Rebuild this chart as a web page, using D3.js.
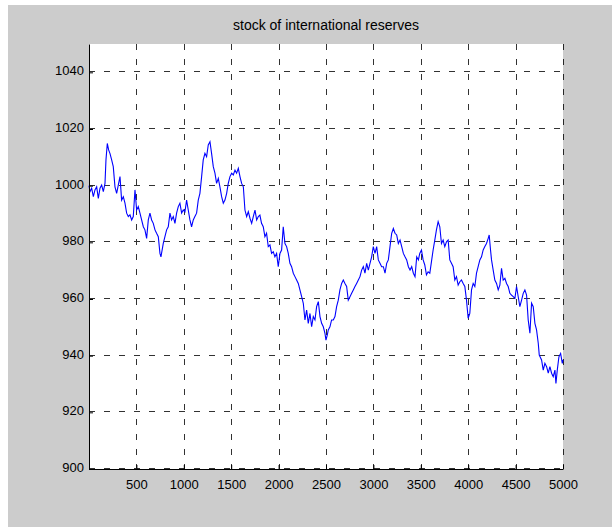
<!DOCTYPE html>
<html>
<head>
<meta charset="utf-8">
<script src="https://cdn.jsdelivr.net/npm/d3@7"></script>
<style>
html,body{margin:0;padding:0;background:#ffffff;}
svg{display:block;}
text{font-family:"Liberation Sans",Arial,Helvetica,sans-serif;}
</style>
</head>
<body>
<svg id="chart" width="612" height="527"></svg>
<script>
const chartTitle = "stock of international reserves";
const xTickValues = [500,1000,1500,2000,2500,3000,3500,4000,4500,5000];
const yTickValues = [900,920,940,960,980,1000,1020,1040];
const xDomain = [0,5000];
const yDomain = [900,1050];

// time step
const steps = [0,10.5,28,45.7,63,80.8,98.4,116,133.5,151,168.7,179,193,207,221,239,256,274,291.6,309,327,344,362,379.5,397,414.6,432,450,467,485,502.6,520,537.6,555,573,590,608,625.5,643,660.6,678,696,713,731,748.5,759,783.5,801,818.7,836,854,871,889,906.6,924,941.7,959,977,994,1012,1029.5,1047,1064.6,1082,1100,1117,1135,1152.6,1170,1188,1205,1223,1240.6,1258,1276,1293,1311,1328.6,1346,1364,1381,1399,1416.6,1434,1452,1469,1487,1504.6,1522,1540,1557,1575,1592.6,1610,1628,1645,1663,1680.6,1698,1716,1733,1751,1768.6,1786,
1802.7,1820,1838,1855.6,1873,1891,1908.5,1926,1943.6,1961,1979,1996.5,2014,2031.6,2049,2067,2084.5,2102,2119.6,2137,2155,2172.5,2190,2207.6,2225,2243,2260.5,2278,2295.6,2313,2331,2348.5,2366,2383.6,2401,2419,2436.5,2454,2471.6,2489,2499.6,2513.7,2524,2541.6,2559,2577,2594.5,2612,2629.6,2647,2665,2682.5,2700,2717.6,2735,2753,2770.5,2788,2805.6,2823,2841,2858.5,2876,2893.6,2911,2929,2946.5,2964,2981.6,2999,3017,3034.5,3052,3069.6,3087,3105,3122.5,3140,3157.6,3175,3193,3210.5,3228,3245.6,3263,3281,3298.5,3316,3333.6,3351,3369,3386.5,3404,3421.6,3439,3457,3474.5,
3489,3507,3524.5,3542,3559.6,3577,3595,3612.5,3630,3647.6,3665,3683,3700.5,3718,3735.6,3753,3771,3788.5,3806,3823.6,3841,3859,3876.5,3894,3911.6,3929,3947,3964.5,3982,3999.6,4017,4035,4052.5,4070,4087.6,4105,4123,4140.5,4158,4175.6,4193,4211,4221.5,4235.6,4246,4263.6,4281,4299,4316.5,4334,4351.6,4369,4387,4404.5,4422,4439.6,4457,4475,4492.5,4510,4527.6,4545,4563,4580.5,4598,4615.6,4633,4651,4668.5,4686,4703.6,4721,4739,4749.5,4774,4791.6,4809,4827,4844.5,4862,4879.6,4897,4915,4925.5,4939.6,4957,4975,4992.5,5000];

// stock of international reserves
const reserves = [1000,997.9,999.1,996.1,998.5,999.6,995.5,999.1,1000.2,997.9,1000.8,1009.1,1014.9,1012.6,1011.4,1009.1,1006.7,999.6,997.3,1000.2,1003.2,994.9,996.1,993.8,990.3,989.1,989.7,987.9,989.1,998.5,991.4,992.6,990.3,987.9,985.5,984.4,981.4,987.9,990.3,987.9,986.7,984.4,983.2,982.0,976.1,974.9,979.6,982.0,984.4,985.5,990.3,987.9,989.1,986.7,990.3,992.6,993.8,990.3,991.4,990.8,994.9,991.4,987.9,985.5,987.9,989.1,990.3,994.9,997.3,1003.2,1009.1,1011.4,1010.2,1014.4,1015.5,1011.4,1006.7,1004.4,1000.8,1002.6,999.6,996.1,993.8,994.9,997.3,1000.8,1003.2,1004.4,1003.8,1005.5,1004.4,1006.1,1003.2,1000.8,999.6,991.4,989.1,990.8,988.5,986.7,989.1,991.4,987.9,989.1,
989.6,986.7,985.5,982.0,983.2,978.5,979.1,976.1,976.7,974.9,976.1,971.4,976.1,977.3,985.5,979.6,978.5,976.1,972.6,971.4,969.1,967.9,966.7,965.5,963.2,960.8,958.5,952.6,956.1,951.4,954.9,950.2,953.8,952.6,957.3,959.1,953.8,951.4,950.2,947.9,945.5,947.3,949.1,950.2,952.6,952.6,953.8,957.3,959.6,963.2,965.5,966.7,965.5,964.4,959.6,960.8,962.0,963.2,964.4,965.5,966.7,967.9,970.2,971.4,969.1,972.6,970.2,972.6,974.9,978.5,976.1,978.5,973.8,972.6,971.4,971.4,969.1,972.6,973.8,978.5,983.2,984.9,983.2,982.6,979.6,980.8,978.5,976.1,974.9,973.8,971.4,970.2,971.4,969.1,967.9,974.9,973.8,
976.1,977.3,973.8,972.0,968.5,969.6,969.1,973.2,977.3,980.8,984.4,987.3,985.5,979.6,980.8,978.5,980.2,980.8,973.8,972.6,971.4,966.7,967.9,964.9,966.1,966.7,965.5,964.4,959.6,953.2,954.9,963.2,965.5,964.4,969.1,971.4,973.8,974.9,977.3,978.5,979.6,981.4,982.6,977.3,973.8,970.2,966.7,965.5,963.2,964.9,970.8,966.7,967.3,965.5,964.4,962.0,961.4,960.8,960.2,964.4,960.8,957.3,959.6,962.0,963.2,961.4,952.6,947.9,958.5,957.3,951.4,949.1,944.4,940.2,938.5,934.9,937.3,936.1,933.8,936.1,933.8,932.6,934.9,930.2,934.9,939.6,940.8,937.3,938.5];

const svg = d3.select("#chart");
const W = 612, H = 527;
const m = {left:89, right:563, top:44, bottom:469};

// figure background
svg.append("rect").attr("x",0).attr("y",0).attr("width",W).attr("height",H).attr("fill","#ffffff");
svg.append("rect").attr("x",8).attr("y",5).attr("width",W-8).attr("height",H-5).attr("fill","#cccccc");
// axes background
svg.append("rect").attr("x",m.left).attr("y",m.top).attr("width",m.right-m.left).attr("height",m.bottom-m.top).attr("fill","#ffffff");

const x = d3.scaleLinear().domain(xDomain).range([m.left,m.right]);
const y = d3.scaleLinear().domain(yDomain).range([m.bottom,m.top]);

// grid
const grid = svg.append("g").attr("stroke","#000").attr("stroke-width",1).attr("stroke-dasharray","6,9").attr("opacity",0.8);
grid.selectAll("line.h").data(yTickValues).enter().append("line")
  .attr("x1",m.left).attr("x2",m.right)
  .attr("y1",d=>Math.round(y(d))-0.5).attr("y2",d=>Math.round(y(d))-0.5);
grid.selectAll("line.v").data(xTickValues).enter().append("line")
  .attr("y1",m.top).attr("y2",m.bottom)
  .attr("x1",d=>Math.round(x(d))+0.5).attr("x2",d=>Math.round(x(d))+0.5);

// data line
const line = d3.line().x((d,i)=>x(steps[i])).y(d=>y(d));
svg.append("path").datum(reserves).attr("d",line)
  .attr("fill","none").attr("stroke","#0000ff").attr("stroke-width",1.1)
  .attr("stroke-linejoin","miter");

// axes
const fmt = d3.format("d");
const xAxis = d3.axisBottom(x).tickValues(xTickValues).tickFormat(fmt).tickSizeInner(-4).tickSizeOuter(0).tickPadding(10);
const yAxis = d3.axisLeft(y).tickValues(yTickValues).tickFormat(fmt).tickSizeInner(-4).tickSizeOuter(0).tickPadding(5);
const gx = svg.append("g").attr("transform",`translate(0,${m.bottom})`).call(xAxis);
const gy = svg.append("g").attr("transform",`translate(${m.left},0)`).call(yAxis);
[gx,gy].forEach(g=>{
  g.select(".domain").attr("stroke","#000").attr("stroke-width",1);
  g.selectAll(".tick line").attr("stroke","#000");
  g.selectAll(".tick text").attr("fill","#000").style("font-size","13px")
   .style("font-family",'"Liberation Sans",Arial,Helvetica,sans-serif');
});
gy.selectAll(".tick text").attr("dy","0.2em");
gx.selectAll(".tick text").attr("dy","0.75em");

// title
svg.append("text").attr("x",(m.left+m.right)/2).attr("y",30)
  .attr("text-anchor","middle").style("font-size","14px").attr("fill","#000")
  .text(chartTitle);
</script>
</body>
</html>
